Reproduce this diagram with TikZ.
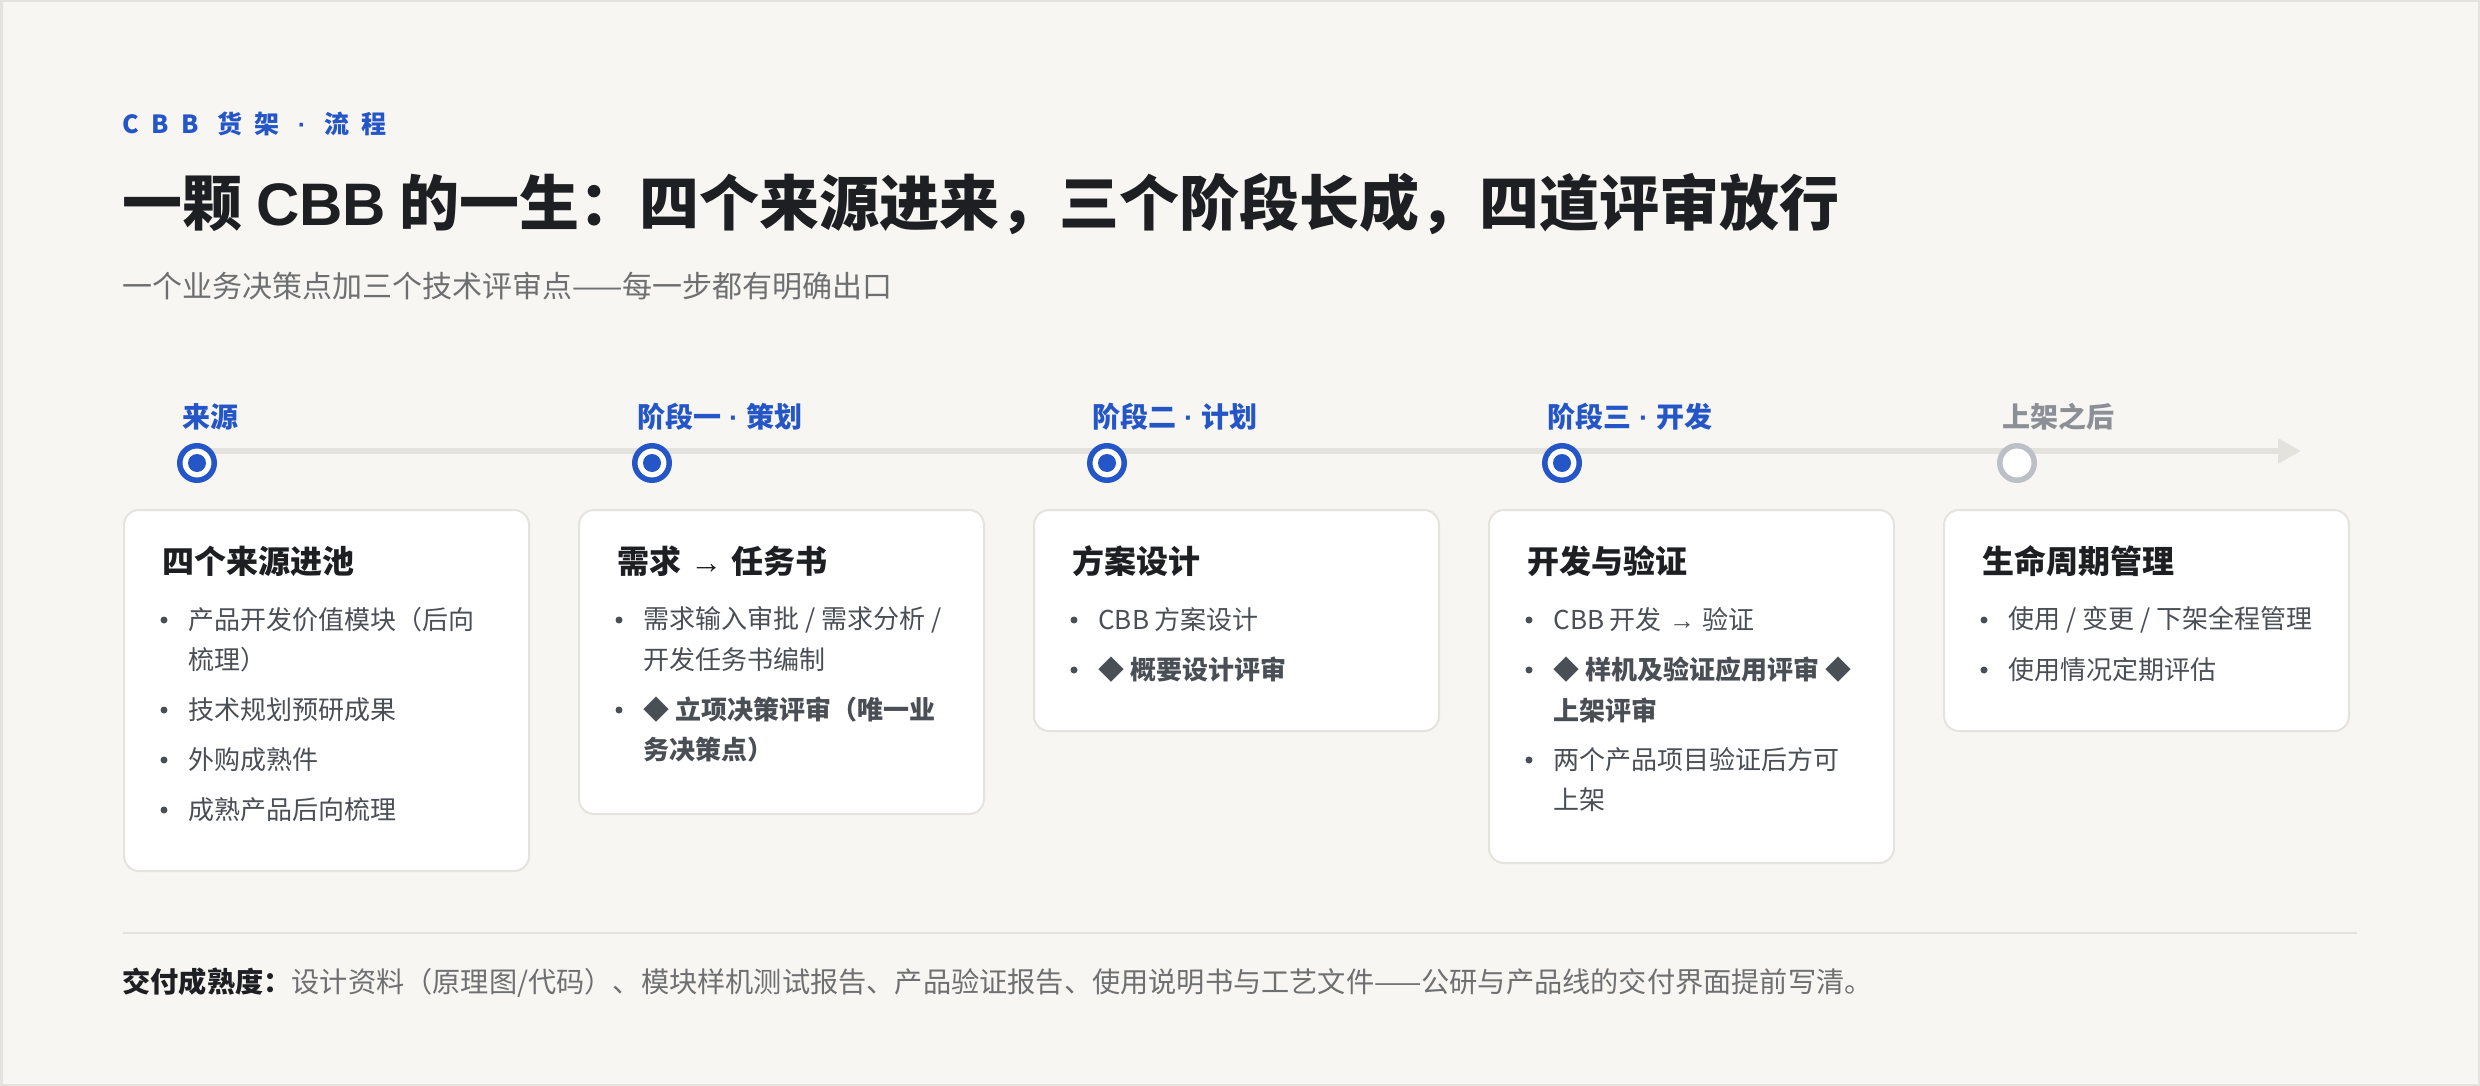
\documentclass[tikz,border=0pt]{standalone}
\usepackage{fontspec}
\setmainfont{Noto Sans CJK SC}
\newfontfamily\latinfont{Liberation Sans}
\newfontfamily\eyebrowfont[LetterSpace=50]{Noto Sans CJK SC}
\usepackage{tikz}
\usetikzlibrary{arrows.meta, positioning}

\definecolor{bgc}{HTML}{F7F6F3}
\definecolor{framec}{HTML}{E4E3DE}
\definecolor{accent}{HTML}{2456C8}
\definecolor{inkc}{HTML}{1E1F22}
\definecolor{subc}{HTML}{6E6F71}
\definecolor{bodyc}{HTML}{4A4E55}
\definecolor{railc}{HTML}{E3E2DD}
\definecolor{mutec}{HTML}{8C9096}
\definecolor{ringc}{HTML}{BCC0C6}
\definecolor{cardline}{HTML}{E5E3DE}

\newcommand\sdot{{\latinfont\ ·\ }}
\newcommand\sarrow{{\latinfont\ →\ }}

\tikzset{
  card/.style={draw=cardline, line width=1pt, fill=white, rounded corners=7.5pt,
    minimum width=202.5pt, anchor=north west, inner sep=0pt},
  ctitle/.style={anchor=west, inner sep=0pt, text=inkc,
    font=\fontsize{16pt}{19pt}\selectfont\bfseries},
  ctext/.style={anchor=west, inner sep=0pt, text=bodyc,
    font=\fontsize{13pt}{16pt}\selectfont},
  cbold/.style={ctext, font=\fontsize{13pt}{16pt}\selectfont\bfseries},
  bdot/.style={fill=bodyc},
  stagelbl/.style={anchor=west, inner sep=0pt, text=accent,
    font=\fontsize{14pt}{17pt}\selectfont\bfseries},
  stage/.style={circle, draw=accent, line width=2.75pt, fill=white,
    minimum size=17.25pt, inner sep=0pt},
  rail/.style={draw=railc, line width=3pt, -{Triangle[length=11.5pt, width=12pt]}}
}

\begin{document}
\begin{tikzpicture}[x=0.5pt, y=-0.5pt]
  \useasboundingbox (0,0) rectangle (2480,1086);
  \fill[bgc] (0,0) rectangle (2480,1086);
  \draw[framec, line width=1.25pt] (1.25,1.25) rectangle (2478.75,1084.75);

  % heading
  \node[anchor=west, inner sep=0pt, text=accent, font=\eyebrowfont\fontsize{12.5pt}{15pt}\selectfont\bfseries]
    (eyebrow) at (122,124) {CBB 货架 {\latinfont ·} 流程};
  \node[anchor=west, inner sep=0pt, text=inkc, font=\fontsize{30pt}{36pt}\selectfont\bfseries]
    (headline) at (122,204) {一颗 {\latinfont CBB} 的一生：四个来源进来，三个阶段长成，四道评审放行};
  \node[anchor=west, inner sep=0pt, text=subc, font=\fontsize{15pt}{18pt}\selectfont]
    (subline) at (122,286) {一个业务决策点加三个技术评审点——每一步都有明确出口};

  % timeline
  \coordinate (railStart) at (197,451);
  \coordinate (railEnd) at (2301,451);
  \draw[rail] (railStart) -- (railEnd);

  \node[stage] (srcDot) at (197,463) {};
  \node[stage] (planDot) at (652,463) {};
  \node[stage] (designDot) at (1107,463) {};
  \node[stage] (devDot) at (1562,463) {};
  \node[stage, draw=ringc] (afterDot) at (2017,463) {};
  \fill[accent] (srcDot) circle (4.5pt);
  \fill[accent] (planDot) circle (4.5pt);
  \fill[accent] (designDot) circle (4.5pt);
  \fill[accent] (devDot) circle (4.5pt);

  \node[stagelbl] (srcLbl) at (182,417) {来源};
  \node[stagelbl] (planLbl) at (637,417) {阶段一\sdot 策划};
  \node[stagelbl] (designLbl) at (1092,417) {阶段二\sdot 计划};
  \node[stagelbl] (devLbl) at (1547,417) {阶段三\sdot 开发};
  \node[stagelbl, text=mutec] (afterLbl) at (2002,417) {上架之后};

  % cards
  \node[card, minimum height=180.5pt] (srcCard) at (123,509) {};
  \node[card, minimum height=152pt] (planCard) at (578,509) {};
  \node[card, minimum height=110.5pt] (designCard) at (1033,509) {};
  \node[card, minimum height=176.5pt] (devCard) at (1488,509) {};
  \node[card, minimum height=110.5pt] (afterCard) at (1943,509) {};

  % card 1
  \node[ctitle] (srcTitle) at (162,561) {四个来源进池};
  \node[ctext] (src1) at (188,620) {产品开发价值模块（后向};
  \node[ctext] (src1b) at (188,660) {梳理）};
  \node[ctext] (src2) at (188,710) {技术规划预研成果};
  \node[ctext] (src3) at (188,760) {外购成熟件};
  \node[ctext] (src4) at (188,810) {成熟产品后向梳理};
  \fill[bdot] (164,620) circle (1.75pt);
  \fill[bdot] (164,710) circle (1.75pt);
  \fill[bdot] (164,760) circle (1.75pt);
  \fill[bdot] (164,810) circle (1.75pt);

  % card 2
  \node[ctitle] (planTitle) at (617,561) {需求\sarrow 任务书};
  \node[ctext] (plan1) at (643,620) {需求输入审批 / 需求分析 /};
  \node[ctext] (plan1b) at (643,660) {开发任务书编制};
  \node[cbold] (plan2) at (643,710) {◆ 立项决策评审（唯一业};
  \node[cbold] (plan2b) at (643,750) {务决策点）};
  \fill[bdot] (619,620) circle (1.75pt);
  \fill[bdot] (619,710) circle (1.75pt);

  % card 3
  \node[ctitle] (designTitle) at (1072,561) {方案设计};
  \node[ctext] (design1) at (1098,620) {CBB 方案设计};
  \node[cbold] (design2) at (1098,670) {◆ 概要设计评审};
  \fill[bdot] (1074,620) circle (1.75pt);
  \fill[bdot] (1074,670) circle (1.75pt);

  % card 4
  \node[ctitle] (devTitle) at (1527,561) {开发与验证};
  \node[ctext] (dev1) at (1553,620) {CBB 开发\sarrow 验证};
  \node[cbold] (dev2) at (1553,670) {◆ 样机及验证应用评审 ◆};
  \node[cbold] (dev2b) at (1553,710) {上架评审};
  \node[ctext] (dev3) at (1553,760) {两个产品项目验证后方可};
  \node[ctext] (dev3b) at (1553,800) {上架};
  \fill[bdot] (1529,620) circle (1.75pt);
  \fill[bdot] (1529,670) circle (1.75pt);
  \fill[bdot] (1529,760) circle (1.75pt);

  % card 5
  \node[ctitle] (afterTitle) at (1982,561) {生命周期管理};
  \node[ctext] (after1) at (2008,620) {使用 / 变更 / 下架全程管理};
  \node[ctext] (after2) at (2008,670) {使用情况定期评估};
  \fill[bdot] (1984,620) circle (1.75pt);
  \fill[bdot] (1984,670) circle (1.75pt);

  % footer
  \coordinate (ruleL) at (123,933);
  \coordinate (ruleR) at (2357,933);
  \draw[railc, line width=1.25pt] (ruleL) -- (ruleR);
  \node[anchor=west, inner sep=0pt, text=subc, font=\fontsize{14.1pt}{17pt}\selectfont]
    (footer) at (122,983) {{\bfseries\color{inkc}交付成熟度：}设计资料（原理图/代码）、模块样机测试报告、产品验证报告、使用说明书与工艺文件——公研与产品线的交付界面提前写清。};
\end{tikzpicture}
\end{document}
